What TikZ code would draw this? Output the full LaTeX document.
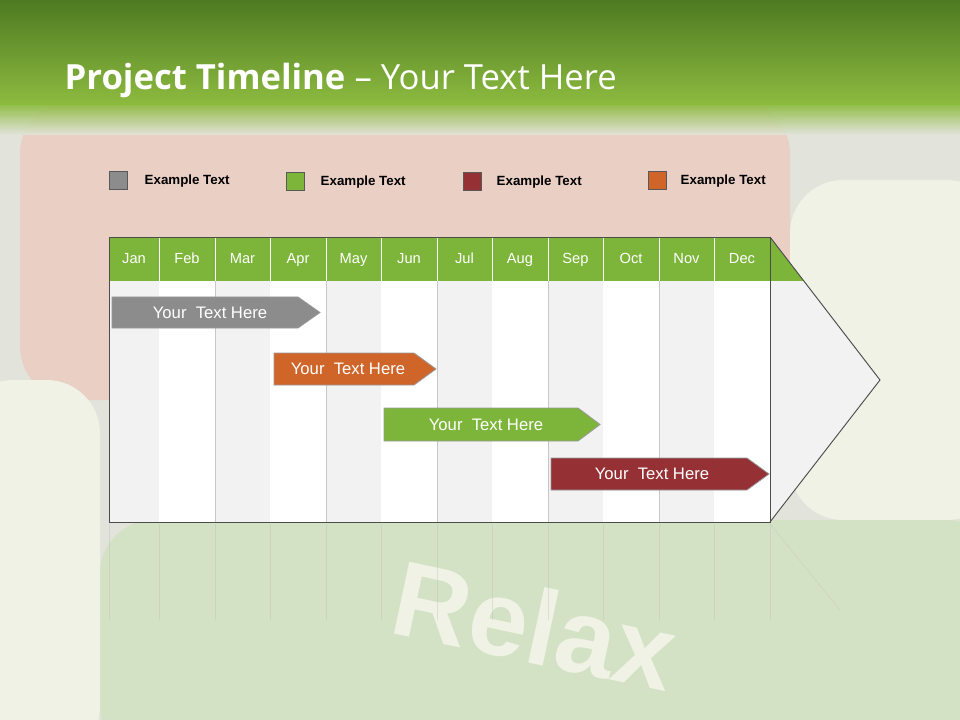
\documentclass[tikz,border=0pt]{standalone}
\usepackage{fontspec}
\setmainfont{Liberation Sans}
\newfontfamily\titlefont{Open Sans}
\definecolor{hdrdark}{HTML}{4E7A22}
\definecolor{hdrlight}{HTML}{8DBB3F}
\definecolor{gbar}{HTML}{7DB53A}
\definecolor{graybar}{HTML}{8C8C8C}
\definecolor{orangebar}{HTML}{D0652A}
\definecolor{redbar}{HTML}{953035}
\definecolor{colgray}{HTML}{F2F2F2}
\definecolor{bgpale}{HTML}{E2E4DC}
\definecolor{keyred}{HTML}{E9CFC4}
\definecolor{keygreen}{HTML}{D3E2C4}
\definecolor{keycream}{HTML}{F1F2E6}
\tikzset{
  mon/.style={text=white,font=\fontsize{11}{13}\selectfont,anchor=base},
  legsq/.style={draw=gray!70!black,minimum size=13.5pt,inner sep=0pt},
  legtx/.style={anchor=west,font=\bfseries\fontsize{10}{12}\selectfont,text=black},
  taskbar/.style={draw=white!60!black,line width=0.6pt},
  tasktx/.style={text=white,font=\fontsize{12.5}{14}\selectfont},
  colline/.style={draw=white!78!black,line width=0.5pt}
}
\begin{document}
\begin{tikzpicture}[x=0.75pt,y=-0.75pt]
\useasboundingbox (0,0) rectangle (960,720);
% background
\fill[bgpale] (0,0) rectangle (960,720);
\fill[keyred,rounded corners=40] (20,100) rectangle (790,400);
\fill[keycream,rounded corners=40] (790,180) rectangle (1000,520);
\fill[keygreen,rounded corners=40] (100,520) rectangle (1000,760);
\fill[keycream,rounded corners=40] (-40,380) rectangle (100,760);
\node[rotate=-12,text=keycream,font=\bfseries\fontsize{80}{90}\selectfont] (relax) at (535,625) {Relax};
% header
\shade[top color=hdrdark,bottom color=hdrlight] (0,0) rectangle (960,105);
\shade[top color=hdrlight,bottom color=bgpale,opacity=0.9] (0,105) rectangle (960,135);
\node[anchor=west,text=white,font=\titlefont\fontsize{26}{30}\selectfont] (title) at (60,80) {\textbf{Project Timeline} – Your Text Here};
% legend
\node[legsq,fill=graybar] (l1) at (118,180) {};
\node[legtx] (t1) at (140,181) {Example Text};
\node[legsq,fill=gbar] (l2) at (295,181) {};
\node[legtx] (t2) at (316,182) {Example Text};
\node[legsq,fill=redbar] (l3) at (472,181) {};
\node[legtx] (t3) at (492,182) {Example Text};
\node[legsq,fill=orangebar] (l4) at (657,180) {};
\node[legtx] (t4) at (676,181) {Example Text};
% chart body
\fill[colgray] (770,237) -- (880,380) -- (770,522) -- cycle;
\fill[colgray] (109,237) rectangle (770,522);
\foreach \a/\b [count=\i] in {109/159,159/215,215/270,270/326,326/381,381/437,437/492,492/548,548/603,603/659,659/714,714/770}{
  \ifodd\i \else \fill[white] (\a,281) rectangle (\b,522); \fi
  \draw[colline] (\b,281) -- (\b,522);
}
\fill[gbar] (109,237) rectangle (770,281);
\fill[gbar] (770,237) -- (804,281) -- (770,281) -- cycle;
\foreach \a in {159,215,270,326,381,437,492,548,603,659,714,770}{
  \draw[white,line width=0.6pt] (\a,237) -- (\a,281);
}
\foreach \m/\x in {Jan/134,Feb/187,Mar/242.5,Apr/298,May/353.5,Jun/409,Jul/464.5,Aug/520,Sep/575.5,Oct/631,Nov/686.5,Dec/742}{
  \node[mon] (m\m) at (\x,264) {\m};
}
\draw[black!70,line width=0.7pt] (109,237) rectangle (770,522);
\draw[black!70,line width=0.7pt] (770,237) -- (880,380) -- (770,522);
% reflection
\foreach \b in {109,159,215,270,326,381,437,492,548,603,659,714,770}{
  \draw[white!70!black,opacity=0.3] (\b,524) -- (\b,620);
}
\draw[white!70!black,opacity=0.3] (770,524) -- (840,610);
% task bars
\draw[taskbar,fill=graybar] (112,297) -- (298,297) -- (320,312.5) -- (298,328) -- (112,328) -- cycle;
\node[tasktx] (b1) at (210,312.5) {Your\ \ Text Here};
\draw[taskbar,fill=orangebar] (274,353) -- (414,353) -- (436,369) -- (414,385) -- (274,385) -- cycle;
\node[tasktx] (b2) at (348,369) {Your\ \ Text Here};
\draw[taskbar,fill=gbar] (384,408) -- (578,408) -- (600,424.5) -- (578,441) -- (384,441) -- cycle;
\node[tasktx] (b3) at (486,424.5) {Your\ \ Text Here};
\draw[taskbar,fill=redbar] (551,458) -- (747,458) -- (769,474) -- (747,490) -- (551,490) -- cycle;
\node[tasktx] (b4) at (652,474) {Your\ \ Text Here};
\end{tikzpicture}
\end{document}
